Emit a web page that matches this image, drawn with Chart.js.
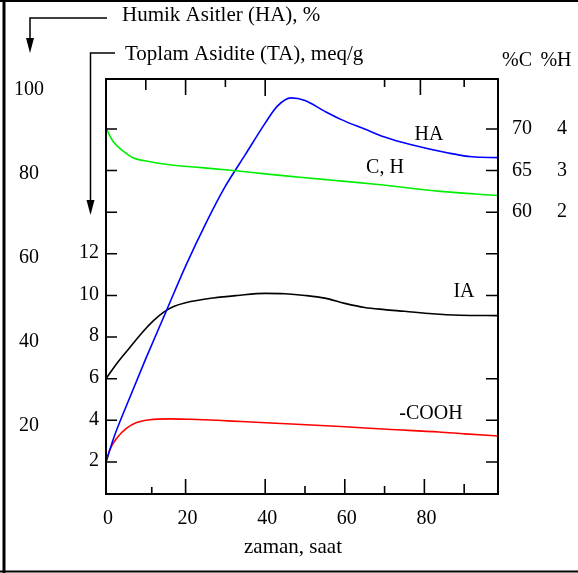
<!DOCTYPE html>
<html>
<head>
<meta charset="utf-8">
<script src="https://cdn.jsdelivr.net/npm/chart.js@4.4.0/dist/chart.umd.min.js"></script>
<style>
  html, body { margin: 0; padding: 0; background: #fff; }
</style>
</head>
<body>
<canvas id="grafik" width="578" height="573"></canvas>
<script>
// Humik asit verimi (%)
const haSaat = [0, 2, 5, 10, 15, 20, 25, 30, 35, 40, 43, 46.5, 50, 55, 59, 65, 70, 76.5, 86, 92, 98.5];
const haDeger = [11.4, 17.3, 24.5, 36, 47, 58, 68, 77, 84.5, 92, 96, 98, 97.4, 94.8, 92.9, 90.6, 88.7, 86.9, 84.9, 84, 83.8];

// Toplam asidite (meq/g)
const taSaat = [0, 3, 6, 9, 12, 14.5, 17, 20, 27, 33, 40, 45, 50, 55, 60, 65, 70, 75, 82, 89, 98.5];
const taDeger = [6.0, 6.8, 7.5, 8.2, 8.8, 9.2, 9.47, 9.65, 9.88, 10.0, 10.1, 10.08, 10.0, 9.87, 9.62, 9.42, 9.32, 9.24, 9.12, 9.05, 9.03];

// -COOH (meq/g)
const coohSaat = [0, 1, 2.7, 5.2, 7.7, 11, 16, 21, 28, 34, 46.6, 59, 70.7, 83.7, 90.2, 98.5];
const coohDeger = [2.0, 2.6, 3.14, 3.62, 3.89, 4.03, 4.07, 4.05, 4.0, 3.94, 3.82, 3.7, 3.57, 3.44, 3.35, 3.25];

// C, H egrisi (%C)
const cSaat = [0, 1.8, 4.4, 6.9, 9.4, 16, 24, 32, 40, 48.8, 55.5, 69, 84, 98.5];
const cDeger = [70.1, 68.5, 67.3, 66.5, 66.2, 65.7, 65.35, 65.0, 64.6, 64.2, 63.9, 63.3, 62.5, 62.0];

// eksen etiketleri
const xEtiket = [0, 20, 40, 60, 80];
const taEtiket = [2, 4, 6, 8, 10, 12];
const haEtiket = [20, 40, 60, 80, 100];
const cEtiket = [60, 65, 70];
const hEtiket = [2, 3, 4];

// ic tarafa bakan cizgiler
const solCentik = [2, 4, 6, 8, 10, 12, 14, 16, 18];
const sagCentik = [2, 4, 6, 10, 12, 14, 16, 18];
const altCentik = [[11.5, 7], [20, 15], [40, 15], [50, 8], [60, 15], [70, 8], [80, 15], [90, 10]];
const ustCentik = [[10, 11], [20, 16], [30, 8], [40, 17], [70, 8], [79, 16], [90, 8]];

function noktalar(saat, deger) {
    return saat.map((s, i) => ({ x: s, y: deger[i] }));
}

const SERIF = "'Liberation Serif', 'Times New Roman', serif";

function yazi(ctx, metin, x, y, hiza) {
    ctx.textAlign = hiza || 'center';
    ctx.fillText(metin, x, y);
}

function ok(ctx, x, uc) {
    ctx.beginPath();
    ctx.moveTo(x, uc);
    ctx.lineTo(x - 4, uc - 15);
    ctx.lineTo(x + 4, uc - 15);
    ctx.closePath();
    ctx.fill();
}

const eksenCiz = {
    id: 'eksenCiz',
    beforeDraw(chart) {
        const ctx = chart.ctx;
        ctx.save();
        ctx.fillStyle = '#fff';
        ctx.fillRect(0, 0, chart.width, chart.height);
        ctx.restore();
    },
    afterDraw(chart) {
        const ctx = chart.ctx;
        const a = chart.chartArea;
        const sx = chart.scales.x, sTA = chart.scales.yTA, sHA = chart.scales.yHA;
        const sC = chart.scales.yC, sH = chart.scales.yH;

        ctx.save();
        ctx.strokeStyle = '#000';
        ctx.fillStyle = '#000';

        // dis cerceve
        ctx.lineWidth = 3;
        ctx.beginPath();
        ctx.moveTo(4, 0); ctx.lineTo(4, 573);
        ctx.stroke();
        ctx.lineWidth = 2;
        ctx.beginPath();
        ctx.moveTo(0, 1); ctx.lineTo(578, 1);
        ctx.moveTo(0, 571.5); ctx.lineTo(578, 571.5);
        ctx.stroke();

        // grafik kutusu
        ctx.lineWidth = 2;
        ctx.strokeRect(a.left, a.top, a.right - a.left, a.bottom - a.top);

        ctx.lineWidth = 1.6;
        ctx.beginPath();
        solCentik.forEach(v => {
            const y = sTA.getPixelForValue(v);
            ctx.moveTo(a.left, y); ctx.lineTo(a.left + 11, y);
        });
        sagCentik.forEach(v => {
            const y = sTA.getPixelForValue(v);
            ctx.moveTo(a.right, y); ctx.lineTo(a.right - 12, y);
        });
        altCentik.forEach(([v, uz]) => {
            const x = sx.getPixelForValue(v);
            ctx.moveTo(x, a.bottom); ctx.lineTo(x, a.bottom - uz);
        });
        ustCentik.forEach(([v, uz]) => {
            const x = sx.getPixelForValue(v);
            ctx.moveTo(x, a.top); ctx.lineTo(x, a.top + uz);
        });
        ctx.stroke();

        // eksen yazilari
        ctx.font = '20px ' + SERIF;
        ctx.textBaseline = 'middle';
        xEtiket.forEach(v => yazi(ctx, String(v), sx.getPixelForValue(v) + 2, 519));
        taEtiket.forEach(v => yazi(ctx, String(v), 99, sTA.getPixelForValue(v) - 1, 'right'));
        haEtiket.forEach(v => yazi(ctx, String(v), 29, sHA.getPixelForValue(v)));
        cEtiket.forEach(v => yazi(ctx, String(v), 522, sC.getPixelForValue(v)));
        hEtiket.forEach(v => yazi(ctx, String(v), 562, sH.getPixelForValue(v)));

        // egri adlari
        yazi(ctx, 'HA', 429, 135);
        yazi(ctx, 'C, H', 385, 168);
        yazi(ctx, 'IA', 464, 292);
        yazi(ctx, '-COOH', 431, 414);

        ctx.font = '21px ' + SERIF;
        yazi(ctx, 'zaman, saat', 293, 547);

        ctx.textBaseline = 'alphabetic';
        yazi(ctx, 'Humik Asitler (HA), %', 122, 21, 'left');
        yazi(ctx, 'Toplam Asidite (TA), meq/g', 125, 60, 'left');
        ctx.font = '20px ' + SERIF;
        yazi(ctx, '%C', 517, 66);
        yazi(ctx, '%H', 556, 66);

        // eksen oklari
        ctx.lineWidth = 1.5;
        ctx.beginPath();
        ctx.moveTo(107, 18); ctx.lineTo(30, 18); ctx.lineTo(30, 45);
        ctx.moveTo(115, 53); ctx.lineTo(90.5, 53); ctx.lineTo(90.5, 205);
        ctx.stroke();
        ok(ctx, 30, 53);
        ok(ctx, 90.5, 215);

        ctx.restore();
    }
};

const ortak = { borderWidth: 1.6, pointRadius: 0, fill: false, cubicInterpolationMode: 'monotone' };

new Chart(document.getElementById('grafik'), {
    type: 'line',
    data: {
        datasets: [
            { ...ortak, label: 'C, H', data: noktalar(cSaat, cDeger), borderColor: '#00ee00', yAxisID: 'yC' },
            { ...ortak, label: 'HA', data: noktalar(haSaat, haDeger), borderColor: '#0000ff', yAxisID: 'yHA' },
            { ...ortak, label: 'TA', data: noktalar(taSaat, taDeger), borderColor: '#000000', yAxisID: 'yTA' },
            { ...ortak, label: '-COOH', data: noktalar(coohSaat, coohDeger), borderColor: '#ff0000', yAxisID: 'yTA' }
        ]
    },
    options: {
        responsive: false,
        animation: false,
        devicePixelRatio: 1,
        layout: { padding: { left: 106, right: 80, top: 79, bottom: 79 } },
        plugins: { legend: { display: false }, tooltip: { enabled: false } },
        scales: {
            x: { type: 'linear', min: 0, max: 98.5, display: false },
            yTA: { type: 'linear', min: 0.46, max: 20.4, display: false },
            yHA: { type: 'linear', min: 3.8, max: 102.5, display: false },
            yC: { type: 'linear', min: 26.15, max: 76.0, display: false },
            yH: { type: 'linear', min: -4.77, max: 5.2, display: false }
        }
    },
    plugins: [eksenCiz]
});
</script>
</body>
</html>
